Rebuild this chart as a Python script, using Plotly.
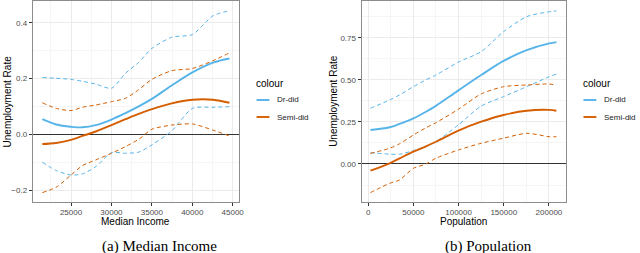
import plotly.graph_objects as go

# ---------------- data ----------------
series_names = ["Dr-did", "Semi-did"]
series_colors = ["#56B4E9", "#D55E00"]

# Panel (a): Median Income
income = [21450, 23160, 25000, 26420, 28060, 30000, 31740, 33370, 35000, 37450, 40020, 42560, 44600]
inc_dr = [0.054, 0.035, 0.027, 0.025, 0.033, 0.053, 0.076, 0.100, 0.127, 0.175, 0.222, 0.257, 0.272]
inc_dr_hi = [0.204, 0.201, 0.197, 0.190, 0.180, 0.165, 0.219, 0.258, 0.308, 0.348, 0.358, 0.425, 0.443]
inc_dr_lo = [-0.100, -0.130, -0.146, -0.142, -0.116, -0.066, -0.068, -0.064, -0.038, 0.012, 0.093, 0.097, 0.099]
inc_semi = [-0.035, -0.031, -0.020, -0.006, 0.010, 0.033, 0.054, 0.073, 0.090, 0.111, 0.124, 0.124, 0.113]
inc_semi_hi = [0.113, 0.093, 0.085, 0.097, 0.105, 0.117, 0.129, 0.160, 0.197, 0.228, 0.236, 0.264, 0.292]
inc_semi_lo = [-0.209, -0.190, -0.146, -0.112, -0.092, -0.068, -0.044, -0.018, 0.018, 0.033, 0.037, 0.015, -0.006]

# Panel (b): Population
population = [2500, 23700, 34700, 50000, 63900, 74900, 99800, 125000, 149800, 175400, 200200, 208300]
pop_dr = [0.202, 0.218, 0.238, 0.271, 0.310, 0.345, 0.437, 0.528, 0.612, 0.676, 0.716, 0.724]
pop_dr_hi = [0.331, 0.380, 0.410, 0.459, 0.500, 0.528, 0.605, 0.667, 0.786, 0.875, 0.904, 0.909]
pop_dr_lo = [0.067, 0.058, 0.058, 0.079, 0.105, 0.132, 0.232, 0.344, 0.400, 0.459, 0.518, 0.534]
pop_semi = [-0.040, 0.004, 0.033, 0.073, 0.105, 0.132, 0.198, 0.251, 0.291, 0.316, 0.321, 0.316]
pop_semi_hi = [0.063, 0.093, 0.120, 0.172, 0.215, 0.245, 0.325, 0.416, 0.459, 0.469, 0.475, 0.467]
pop_semi_lo = [-0.170, -0.115, -0.095, -0.026, 0.000, 0.034, 0.083, 0.123, 0.153, 0.182, 0.162, 0.162]

# ---------------- figure ----------------
W, H = 640, 253
def fx(x):
    return x / W
def fy(y):
    return 1 - y / H

fig = go.Figure()

panels = [
    (income, [(inc_dr, inc_dr_hi, inc_dr_lo), (inc_semi, inc_semi_hi, inc_semi_lo)], "x", "y"),
    (population, [(pop_dr, pop_dr_hi, pop_dr_lo), (pop_semi, pop_semi_hi, pop_semi_lo)], "x2", "y2"),
]
for xs, groups, xa, ya in panels:
    for (mid, hi, lo), name, col in zip(groups, series_names, series_colors):
        for band in (hi, lo):
            fig.add_trace(go.Scatter(x=xs, y=band, mode="lines", xaxis=xa, yaxis=ya,
                                     line=dict(color=col, width=1.0, dash="4px,3px",
                                               shape="spline", smoothing=0.7),
                                     showlegend=False, hoverinfo="skip"))
        fig.add_trace(go.Scatter(x=xs, y=mid, mode="lines", xaxis=xa, yaxis=ya, name=name,
                                 line=dict(color=col, width=1.9, shape="spline", smoothing=1.0),
                                 showlegend=False))

tickfont = dict(family="Liberation Sans, Arial", size=8, color="#4D4D4D")
common_x = dict(showgrid=True, gridcolor="#EBEBEB", gridwidth=0.8, zeroline=False,
                showline=True, mirror=True, linecolor="#8C8C8C", linewidth=1,
                ticks="outside", ticklen=3, tickcolor="#333333", tickwidth=1,
                tickfont=tickfont, tickformat="d")
common_y = dict(showgrid=True, gridcolor="#EBEBEB", gridwidth=0.8,
                zeroline=True, zerolinecolor="#333333", zerolinewidth=1.2,
                showline=True, mirror=True, linecolor="#8C8C8C", linewidth=1,
                ticks="outside", ticklen=3, tickcolor="#333333", tickwidth=1,
                tickfont=tickfont)

ydom = [fy(201.5), fy(1)]
fig.update_layout(
    width=W, height=H, margin=dict(l=0, r=0, t=0, b=0),
    paper_bgcolor="white", plot_bgcolor="white", showlegend=False,
    xaxis=dict(domain=[fx(33), fx(241)], range=[20257, 45748], anchor="y",
               tick0=25000, dtick=5000,
               minor=dict(dtick=2500, showgrid=True, gridcolor="#F5F5F5", gridwidth=0.6, ticklen=0),
               **common_x),
    yaxis=dict(domain=ydom, range=[-0.241, 0.478], anchor="x", tick0=0, dtick=0.2, tickformat=".1f",
               minor=dict(dtick=0.1, showgrid=True, gridcolor="#F5F5F5", gridwidth=0.6, ticklen=0),
               **common_y),
    xaxis2=dict(domain=[fx(365), fx(571)], range=[-7350, 218500], anchor="y2",
                tick0=0, dtick=50000,
                minor=dict(dtick=25000, showgrid=True, gridcolor="#F5F5F5", gridwidth=0.6, ticklen=0),
                **common_x),
    yaxis2=dict(domain=ydom, range=[-0.223, 0.968], anchor="x2", tick0=0, dtick=0.25, tickformat=".2f",
                minor=dict(dtick=0.125, showgrid=True, gridcolor="#F5F5F5", gridwidth=0.6, ticklen=0),
                **common_y),
)

ann_font = dict(family="Liberation Sans, Arial", size=10, color="black")
annotations = []
# axis titles
for x, txt in [(137, "Median Income"), (468, "Population")]:
    annotations.append(dict(x=fx(x), y=fy(221), xref="paper", yref="paper", text=txt,
                            showarrow=False, font=ann_font, xanchor="center", yanchor="middle"))
for x in (7.5, 336):
    annotations.append(dict(x=fx(x), y=fy(101), xref="paper", yref="paper", text="Unemployment Rate",
                            textangle=-90, showarrow=False, font=ann_font,
                            xanchor="center", yanchor="middle"))
# captions
for x, txt in [(161, "(a) Median Income"), (493, "(b) Population")]:
    annotations.append(dict(x=fx(x), y=fy(246), xref="paper", yref="paper", text=txt,
                            showarrow=False,
                            font=dict(family="Liberation Serif, DejaVu Serif", size=15, color="black"),
                            xanchor="center", yanchor="middle"))

# legends (one per panel)
shapes = []
for lx in (256.5, 586.5):
    annotations.append(dict(x=fx(lx), y=fy(83.5), xref="paper", yref="paper", text="colour",
                            showarrow=False, font=ann_font, xanchor="left", yanchor="middle"))
    for i, (name, col) in enumerate(zip(series_names, series_colors)):
        yy = 100 + 17 * i
        shapes.append(dict(type="line", xref="paper", yref="paper",
                           x0=fx(lx + 2.5), x1=fx(lx + 15.5), y0=fy(yy), y1=fy(yy),
                           line=dict(color=col, width=1.9)))
        annotations.append(dict(x=fx(lx + 21), y=fy(yy), xref="paper", yref="paper", text=name,
                                showarrow=False,
                                font=dict(family="Liberation Sans, Arial", size=8, color="#222222"),
                                xanchor="left", yanchor="middle"))

fig.update_layout(annotations=annotations, shapes=shapes)
fig.write_html("out.html", config={"displayModeBar": False},
               post_script="document.body.style.margin='0';document.body.style.overflow='hidden';")
